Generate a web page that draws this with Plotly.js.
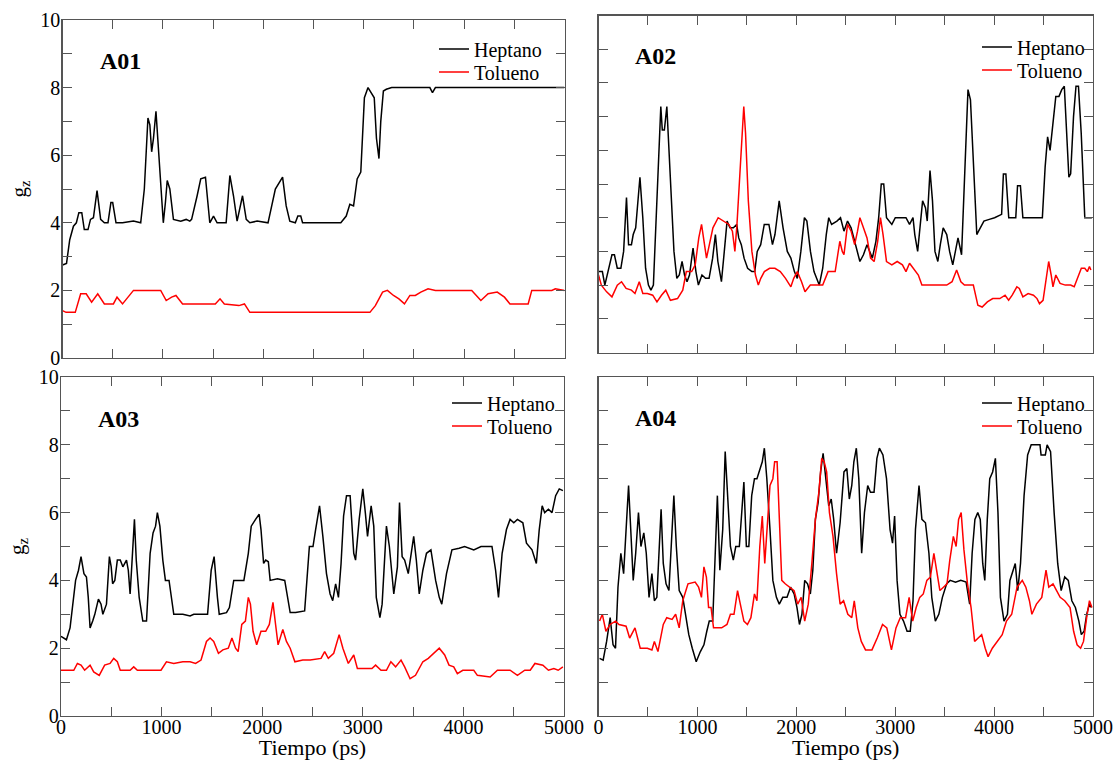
<!DOCTYPE html>
<html><head><meta charset="utf-8">
<script src="https://cdn.plot.ly/plotly-3.0.1.min.js"></script>
<style>html,body{margin:0;padding:0;background:#fff}#chart{width:1115px;height:760px}</style>
</head><body><div id="chart"></div>
<script>
// ---------- DATA (time in ps, g_z) ----------
const panelLabels = ['A01', 'A02', 'A03', 'A04'];
const seriesNames = ['Heptano', 'Tolueno'];
const xTickVals = [0, 1000, 2000, 3000, 4000, 5000];
const yTickVals = [0, 2, 4, 6, 8, 10];

const t_A01_hep = [0,40,72,109,138,163,192,217,254,279,308,344,380,417,453,482,500,533,598,707,779,815,851,870,888,906,931,960,978,1004,1025,1043,1069,1105,1178,1232,1268,1286,1341,1377,1424,1467,1504,1540,1630,1667,1703,1739,1793,1830,1866,1938,2047,2120,2192,2228,2264,2319,2344,2373,2391,2772,2826,2862,2899,2935,2971,3007,3043,3080,3105,3127,3152,3170,3196,3225,3279,3424,3659,3685,3714,3895,5000];
const g_A01_hep = [2.75,2.8,3.5,3.9,4.0,4.3,4.3,3.8,3.8,4.1,4.15,4.95,4.1,4.0,4.0,4.6,4.6,4.0,4.0,4.05,4.0,5.0,7.1,6.9,6.1,6.5,7.3,6.0,5.0,4.0,4.6,5.25,5.0,4.1,4.05,4.1,4.05,4.1,4.8,5.3,5.35,4.0,4.2,4.0,4.0,5.4,4.8,4.05,4.8,4.1,4.0,4.05,4.0,5.0,5.35,4.5,4.05,4.0,4.2,4.2,4.0,4.0,4.2,4.55,4.5,5.3,5.5,7.7,8.0,7.8,7.7,6.5,5.9,7.0,7.9,7.95,8.0,8.0,8.0,7.85,8.0,8.0,8.0];
const t_A01_tol = [0,36,127,181,236,290,351,417,507,543,598,652,707,978,1033,1087,1130,1196,1522,1569,1612,1757,1812,1866,3062,3116,3188,3236,3297,3351,3406,3460,3514,3569,3641,3714,4076,4167,4239,4330,4402,4457,4638,4674,4873,4909,5000];
const g_A01_tol = [1.4,1.35,1.35,1.9,1.9,1.65,1.9,1.6,1.6,1.8,1.6,1.8,2.0,2.0,1.7,1.8,1.85,1.6,1.6,1.75,1.6,1.55,1.6,1.35,1.35,1.55,1.95,2.0,1.85,1.75,1.6,1.85,1.85,1.95,2.05,2.0,2.0,1.7,1.9,1.95,1.8,1.6,1.6,2.0,2.0,2.05,2.0];

const t_A02_hep = [0,39,64,100,136,161,190,226,254,283,304,333,351,376,398,419,448,476,505,530,555,584,613,630,645,666,691,709,734,763,792,817,845,870,895,920,956,985,1010,1046,1082,1118,1154,1182,1207,1243,1272,1300,1329,1364,1397,1418,1444,1472,1508,1551,1580,1605,1640,1676,1723,1759,1784,1827,1866,1909,1945,1981,2010,2046,2082,2107,2143,2179,2232,2267,2303,2328,2357,2411,2447,2482,2518,2554,2590,2643,2679,2715,2769,2805,2833,2859,2884,2912,2966,3001,3109,3145,3180,3198,3227,3252,3277,3306,3324,3352,3377,3402,3431,3456,3485,3521,3550,3582,3610,3635,3671,3700,3736,3761,3790,3825,3843,3897,3951,4005,4076,4094,4119,4148,4219,4237,4266,4291,4488,4516,4541,4566,4595,4624,4656,4684,4710,4738,4756,4774,4803,4828,4853,4881,4917,4989];
const g_A02_hep = [2.4,2.4,2.0,2.5,2.9,2.9,2.5,2.5,3.0,4.6,3.2,3.2,3.5,3.7,4.5,5.2,4.0,2.5,2.0,1.85,2.0,4.0,6.2,7.3,6.6,6.6,7.3,6.3,4.8,3.0,2.2,2.3,2.7,2.3,2.1,2.3,3.1,2.4,2.0,2.3,2.2,2.2,2.8,3.5,2.7,2.1,3.0,3.9,3.7,3.7,3.8,3.4,3.2,2.8,2.5,2.4,2.4,3.0,3.2,3.8,3.8,3.2,3.5,4.5,3.7,3.0,2.8,2.4,2.2,3.0,4.0,3.9,3.0,2.4,2.0,2.5,3.5,4.0,3.8,3.9,4.0,3.6,3.9,3.7,3.3,2.7,2.9,3.2,2.8,3.3,4.0,5.0,5.0,4.0,3.8,4.0,4.0,3.8,4.0,3.5,3.0,3.8,4.5,4.3,3.9,5.4,4.5,3.0,2.7,3.2,3.7,3.5,3.0,2.6,3.0,3.4,2.9,5.0,7.8,7.5,5.5,3.5,3.6,3.9,3.95,4.0,4.1,5.3,5.3,4.0,4.0,4.95,4.95,4.0,4.0,5.5,6.4,6.0,6.8,7.6,7.6,7.8,7.9,6.0,5.2,5.3,7.0,7.9,7.9,6.5,4.0,4.0];
const t_A02_tol = [0,29,82,136,190,233,279,333,369,412,448,494,548,591,637,680,727,799,852,888,942,978,1014,1042,1067,1092,1121,1157,1210,1264,1318,1354,1379,1400,1426,1451,1469,1487,1515,1551,1587,1616,1641,1677,1730,1784,1838,1891,1945,1974,2010,2053,2088,2142,2196,2267,2321,2393,2440,2465,2482,2518,2554,2590,2619,2643,2679,2715,2751,2787,2823,2851,2877,2912,2966,3020,3073,3109,3145,3180,3234,3270,3413,3521,3575,3621,3664,3700,3790,3836,3879,3932,3986,4058,4111,4147,4183,4230,4255,4291,4344,4398,4434,4459,4495,4524,4552,4577,4595,4624,4667,4720,4774,4810,4846,4882,4917,4943,4964,4979];
const g_A02_tol = [2.3,2.0,1.8,1.65,2.0,2.1,1.9,1.85,1.75,2.1,1.75,1.75,1.7,1.5,1.7,1.85,1.55,1.6,1.85,2.4,2.4,2.6,3.4,3.8,3.3,2.8,3.2,3.7,4.0,3.9,3.8,3.6,3.0,3.8,5.0,6.5,7.3,6.5,4.5,3.0,2.3,2.0,2.2,2.4,2.5,2.5,2.4,2.2,1.95,2.2,2.4,2.1,1.8,2.0,2.0,2.0,2.4,2.4,3.3,3.0,2.9,3.8,3.6,3.2,3.6,4.0,3.7,3.4,2.8,2.7,3.3,4.0,3.5,2.7,2.6,2.7,2.6,2.4,2.65,2.5,2.3,2.0,2.0,2.0,2.1,2.45,2.1,2.0,2.0,1.4,1.35,1.5,1.6,1.6,1.7,1.55,1.7,1.95,1.9,1.65,1.75,1.7,1.6,1.45,1.55,2.2,2.7,2.3,1.95,2.3,2.05,2.0,2.0,1.95,2.2,2.5,2.5,2.4,2.55,2.45];

const t_A03_hep = [0,54,90,116,145,174,199,228,253,271,289,315,336,372,398,416,452,481,499,513,535,560,589,615,651,669,687,705,730,748,777,813,850,886,915,940,958,983,1012,1038,1074,1121,1211,1283,1320,1410,1457,1493,1522,1555,1573,1645,1674,1717,1818,1862,1891,1934,1970,1988,2014,2035,2061,2079,2151,2224,2278,2332,2422,2469,2505,2531,2570,2603,2639,2675,2701,2730,2758,2784,2809,2838,2874,2910,2928,2964,3000,3025,3047,3083,3109,3134,3170,3192,3235,3264,3308,3344,3365,3391,3416,3452,3506,3532,3561,3597,3633,3677,3724,3760,3785,3832,3886,3958,4012,4103,4175,4284,4320,4349,4385,4428,4464,4501,4537,4591,4627,4682,4725,4754,4783,4808,4845,4881,4917,4953,4989];
const g_A03_hep = [2.35,2.25,2.6,3.3,4.0,4.3,4.7,4.2,4.1,3.5,2.6,2.8,3.0,3.45,3.3,3.0,3.3,4.7,4.4,3.9,4.0,4.6,4.6,4.4,4.6,4.3,3.6,4.5,5.8,4.6,3.5,2.8,2.8,4.8,5.4,5.6,6.0,5.6,4.6,4.0,4.0,3.0,3.0,2.95,3.0,3.0,3.0,4.3,4.7,3.5,3.0,3.05,3.2,4.0,4.0,4.8,5.6,5.8,5.95,5.5,4.5,4.6,4.55,4.0,4.05,4.0,3.05,3.05,3.1,5.0,5.0,5.5,6.2,5.3,4.2,3.6,3.4,3.9,3.5,4.5,5.9,6.5,6.5,4.8,4.6,5.8,6.7,6.0,5.3,6.2,5.6,3.5,2.9,3.3,5.6,5.0,3.6,4.4,6.3,4.7,4.6,4.2,5.3,4.6,3.6,4.3,4.8,4.9,4.0,3.5,3.3,4.2,4.9,4.95,5.0,4.9,5.0,5.0,4.3,3.5,4.8,5.5,5.8,5.7,5.8,5.7,5.1,4.9,4.5,5.5,6.2,6.0,6.1,6.0,6.5,6.7,6.65];
const t_A03_tol = [0,127,163,199,235,289,325,380,434,488,524,560,589,687,723,759,994,1048,1121,1211,1283,1338,1392,1446,1482,1518,1565,1609,1663,1699,1735,1761,1797,1833,1862,1883,1909,1945,1988,2035,2071,2107,2133,2158,2205,2241,2278,2325,2404,2477,2585,2621,2657,2711,2765,2802,2856,2910,2946,3019,3091,3127,3181,3235,3279,3326,3380,3416,3470,3524,3597,3651,3705,3760,3814,3857,3904,3940,3994,4103,4139,4266,4338,4464,4537,4610,4664,4711,4790,4845,4899,4942,4989];
const g_A03_tol = [1.35,1.35,1.55,1.5,1.35,1.5,1.3,1.2,1.5,1.55,1.7,1.6,1.35,1.35,1.45,1.35,1.35,1.6,1.55,1.6,1.6,1.55,1.65,2.2,2.3,2.2,1.85,1.95,2.0,2.3,2.0,1.9,2.7,2.8,3.5,3.3,2.5,2.1,2.5,2.5,2.7,3.35,2.7,2.1,2.55,2.2,2.0,1.6,1.65,1.65,1.7,1.9,1.7,1.85,2.4,2.0,1.55,1.8,1.4,1.4,1.4,1.5,1.35,1.35,1.6,1.45,1.65,1.45,1.1,1.2,1.6,1.7,1.85,2.0,1.8,1.5,1.45,1.25,1.35,1.35,1.2,1.15,1.35,1.35,1.2,1.35,1.35,1.55,1.5,1.35,1.4,1.35,1.45];

const t_A04_hep = [11,47,82,118,147,172,197,226,254,279,304,326,351,376,404,429,458,483,511,540,565,590,612,633,655,683,712,737,762,787,816,852,877,913,948,988,1030,1066,1095,1120,1155,1184,1202,1227,1256,1281,1306,1334,1363,1388,1424,1449,1470,1495,1520,1549,1577,1602,1631,1656,1677,1702,1734,1763,1799,1828,1863,1906,1942,1978,2007,2032,2057,2085,2114,2142,2167,2193,2221,2246,2271,2300,2328,2353,2378,2407,2443,2482,2511,2536,2561,2582,2607,2632,2661,2689,2722,2750,2786,2815,2840,2876,2912,2948,2973,2994,3019,3048,3084,3120,3152,3180,3205,3241,3270,3306,3341,3370,3406,3441,3477,3520,3556,3610,3663,3717,3753,3778,3806,3835,3860,3885,3906,3931,3956,3985,4013,4039,4064,4100,4135,4160,4189,4214,4239,4267,4303,4339,4375,4464,4475,4518,4536,4571,4607,4643,4678,4714,4750,4786,4822,4857,4882,4910,4936,4964,4982];
const g_A04_hep = [1.7,1.65,2.2,2.9,2.1,2.0,3.8,4.8,4.2,5.5,6.8,5.5,4.0,4.8,6.0,5.0,5.4,4.8,3.5,4.2,3.4,3.5,5.0,6.1,4.5,3.9,3.7,5.0,6.5,5.0,3.7,3.5,3.0,2.4,2.0,1.6,1.9,2.1,2.5,2.8,2.8,5.0,6.5,4.3,5.5,7.8,6.5,5.0,4.6,5.0,5.0,6.0,6.9,5.0,5.0,6.5,7.0,7.0,7.3,7.5,7.9,7.0,5.5,4.0,3.5,3.3,3.5,3.5,3.8,3.6,3.2,2.7,3.0,4.0,3.9,3.6,4.3,5.8,6.3,7.2,7.75,7.0,6.2,6.4,5.8,4.8,5.7,7.2,7.3,6.4,6.8,7.5,7.9,7.0,4.8,6.0,6.8,6.6,6.6,7.6,7.9,7.7,7.0,5.5,5.1,5.9,4.0,3.0,2.8,2.5,2.5,3.4,5.5,6.8,5.8,5.7,4.8,3.5,2.8,3.0,3.5,3.9,4.0,3.95,4.0,3.95,3.3,4.8,5.8,6.0,5.8,4.5,4.0,5.8,7.0,7.2,7.6,6.0,3.5,2.8,3.0,4.0,4.3,4.5,3.7,4.5,6.5,7.7,8.0,8.0,7.7,7.7,8.0,7.8,6.0,4.5,3.7,4.1,4.0,3.4,3.2,2.8,2.4,2.5,3.0,3.3,3.2];
const t_A04_tol = [11,39,75,118,172,207,279,315,369,422,494,540,565,601,655,690,744,780,816,852,905,977,1012,1041,1066,1091,1113,1138,1163,1191,1245,1299,1334,1370,1406,1434,1470,1506,1541,1577,1602,1631,1656,1681,1702,1734,1763,1781,1806,1828,1853,1888,1935,1978,2014,2049,2085,2121,2157,2193,2228,2257,2282,2307,2335,2371,2407,2443,2478,2521,2561,2586,2622,2657,2700,2765,2818,2872,2915,2962,3008,3051,3105,3141,3177,3212,3248,3284,3320,3356,3391,3416,3452,3488,3524,3552,3588,3616,3641,3667,3695,3731,3767,3803,3838,3874,3910,3939,3982,4036,4082,4125,4178,4232,4285,4321,4357,4382,4428,4482,4525,4553,4596,4632,4668,4714,4768,4804,4839,4875,4904,4936,4964,4989];
const g_A04_tol = [2.8,3.0,2.5,2.7,2.8,2.7,2.65,2.3,2.6,2.0,2.0,1.95,2.2,1.9,2.7,2.9,2.85,3.0,2.6,3.4,3.9,3.95,3.8,3.5,4.4,4.1,3.2,3.2,2.6,2.6,2.6,2.7,3.0,3.0,3.7,3.3,2.8,2.7,2.9,3.6,3.4,5.0,5.9,4.5,5.5,6.8,7.0,7.5,7.5,6.0,4.0,3.9,3.8,3.7,3.3,3.5,2.8,3.3,4.5,5.8,6.6,7.6,7.5,7.2,6.0,5.3,4.2,3.3,3.4,3.0,2.9,3.4,2.6,2.2,1.95,1.95,2.3,2.7,2.6,1.95,2.6,2.9,2.9,3.5,2.8,3.2,3.5,3.6,4.0,4.1,4.8,4.3,3.7,3.8,3.9,4.6,5.3,5.0,5.8,6.0,4.9,3.9,3.2,2.2,2.3,2.4,2.0,1.75,2.0,2.2,2.4,2.8,3.0,3.8,4.0,3.8,3.4,3.0,3.3,3.5,4.3,3.8,3.9,3.7,3.5,3.4,3.2,2.5,2.1,2.0,2.2,2.9,3.4,3.2];

// ---------- LAYOUT / STYLE ----------
const W = 1115, H = 760;
const px = v => v / W, py = v => 1 - v / H;
const boxes = [ // left, right, top, bottom in pixels
  [62.5, 564.5, 20, 358],
  [598.5, 1093, 15.5, 352.5],
  [61, 564, 377, 716],
  [598.5, 1093, 377, 716]
];
const seriesData = [
  [[t_A01_hep, g_A01_hep], [t_A01_tol, g_A01_tol]],
  [[t_A02_hep, g_A02_hep], [t_A02_tol, g_A02_tol]],
  [[t_A03_hep, g_A03_hep], [t_A03_tol, g_A03_tol]],
  [[t_A04_hep, g_A04_hep], [t_A04_tol, g_A04_tol]]
];
const colors = ['#000000', '#ff0000'];
const FONT = 'Liberation Serif, Times New Roman, serif';
const FRAME = '#555555';
// left edge of legend text, centre y of first entry, spacing
const legendText = [[474, 49], [1017, 47], [487, 403], [1017, 403]];
const legendGap = 23;
const labelPos = [[120, 61], [655, 56], [118, 419], [655, 418]];

const traces = [];
const layout = {
  width: W, height: H,
  margin: {l: 0, r: 0, t: 0, b: 0},
  paper_bgcolor: '#ffffff', plot_bgcolor: '#ffffff',
  font: {family: FONT, color: '#000', size: 20},
  annotations: [], showlegend: true
};

let legIdx = 0;
boxes.forEach((b, i) => {
  const n = i + 1;
  const xa = 'xaxis' + (n === 1 ? '' : n), ya = 'yaxis' + (n === 1 ? '' : n);
  const xr = 'x' + (n === 1 ? '' : n), yr = 'y' + (n === 1 ? '' : n);
  seriesData[i].forEach((s, k) => {
    legIdx += 1;
    const lg = 'legend' + (legIdx === 1 ? '' : legIdx);
    traces.push({
      type: 'scatter', mode: 'lines', x: s[0], y: s[1],
      name: seriesNames[k], xaxis: xr, yaxis: yr, legend: lg,
      line: {color: colors[k], width: 1.5}
    });
    layout[lg] = {
      x: px(legendText[i][0] - 40), y: py(legendText[i][1] + k * legendGap),
      xanchor: 'left', yanchor: 'middle',
      bgcolor: 'rgba(0,0,0,0)', borderwidth: 0, itemwidth: 30,
      font: {family: FONT, size: 20, color: '#000'}
    };
  });
  const showX = i >= 2, showY = (i % 2) === 0;
  layout[xa] = {
    domain: [px(b[0]), px(b[1])], anchor: yr, range: [0, 5000],
    tickmode: 'array', tickvals: xTickVals, showticklabels: showX,
    ticks: 'inside', ticklen: 9, tickwidth: 1, tickcolor: FRAME,
    minor: {dtick: 500, tick0: 0, ticks: 'inside', ticklen: 9, tickwidth: 1, tickcolor: FRAME, showgrid: false},
    showline: true, linecolor: FRAME, linewidth: 1.3, mirror: 'allticks',
    showgrid: false, zeroline: false, fixedrange: true,
    tickfont: {family: FONT, size: 20, color: '#000'}, ticklabelstandoff: -7
  };
  if (showX) layout[xa].title = {text: 'Tiempo (ps)', font: {family: FONT, size: 22, color: '#000'}, standoff: 3};
  layout[ya] = {
    domain: [py(b[3]), py(b[2])], anchor: xr, range: [0, 10],
    tickmode: 'array', tickvals: yTickVals, showticklabels: showY,
    ticks: 'inside', ticklen: 9, tickwidth: 1, tickcolor: FRAME,
    minor: {dtick: 1, tick0: 0, ticks: 'inside', ticklen: 9, tickwidth: 1, tickcolor: FRAME, showgrid: false},
    showline: true, linecolor: FRAME, linewidth: 1.3, mirror: 'allticks',
    showgrid: false, zeroline: false, fixedrange: true,
    tickfont: {family: FONT, size: 20, color: '#000'}, ticklabelstandoff: -3
  };
  if (showY) layout[ya].title = {text: 'g<sub>z</sub>', font: {family: FONT, size: 21, color: '#000'}, standoff: 8};
  layout.annotations.push({
    xref: 'paper', yref: 'paper', x: px(labelPos[i][0]), y: py(labelPos[i][1]),
    xanchor: 'center', yanchor: 'middle', showarrow: false,
    text: '<b>' + panelLabels[i] + '</b>', font: {family: FONT, size: 24, color: '#000'}
  });
});

Plotly.newPlot('chart', traces, layout, {displayModeBar: false, staticPlot: true});
</script>
</body></html>
